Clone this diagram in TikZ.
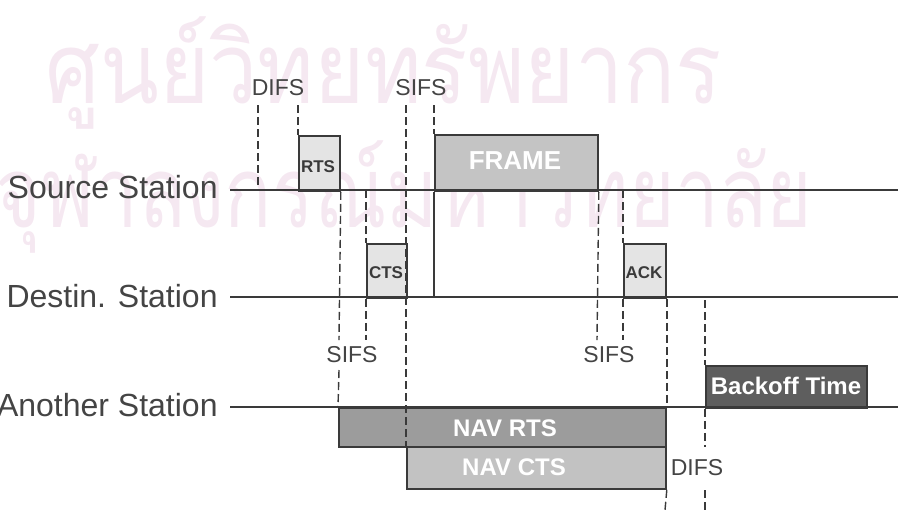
\documentclass[tikz,border=0pt]{standalone}
\usepackage{fontspec}
\setmainfont{Liberation Sans}
\newfontfamily\thaifont[Script=Thai]{Loma}
\usetikzlibrary{positioning}

\definecolor{linegray}{HTML}{3A3A3A}
\definecolor{labelgray}{HTML}{444444}
\definecolor{ctlfill}{HTML}{E4E4E4}
\definecolor{framefill}{HTML}{C4C4C4}
\definecolor{navrtsfill}{HTML}{9C9C9C}
\definecolor{navctsfill}{HTML}{C2C2C2}
\definecolor{backofffill}{HTML}{5E5E5E}
\definecolor{wmpink}{HTML}{F5E8F1}

\begin{document}
\begin{tikzpicture}[
    x=0.5pt, y=-0.5pt,
    station/.style={font=\fontsize{16}{19}\selectfont, text=labelgray, anchor=east, inner sep=0pt},
    ifs/.style={font=\fontsize{11.5}{14}\selectfont, text=labelgray, inner sep=0pt},
    slot/.style={rectangle, draw=linegray, line width=0.9pt, fill=#1, anchor=north west, inner sep=0pt},
    slotlabel/.style={font=\fontsize{8.5}{10}\selectfont\bfseries, text=linegray, inner sep=0pt},
    navlabel/.style={font=\fontsize{12}{14}\selectfont\bfseries, text=white, inner sep=0pt},
    wire/.style={line width=0.9pt, draw=linegray},
    timemark/.style={line width=0.7pt, draw=linegray, dash pattern=on 4pt off 2pt},
    wmark/.style={font=\thaifont\fontsize{49.5}{55}\selectfont, text=wmpink, anchor=base west, inner sep=0pt},
]
\useasboundingbox (0,0) rectangle (898,510);

% Watermark
\node[wmark] (wm1) at (45,103) {\scalebox{0.87}[1]{ศูนย์วิทยทรัพยากร}};
\node[wmark] (wm2) at (-5,227) {\scalebox{0.79}[1]{จุฬาลงกรณ์มหาวิทยาลัย}};

% Station labels
\node[station] (src) at (218,187) {Source Station};
\node[station] (dst) at (218,296) {Destin. Station};
\node[station] (oth) at (218,405) {Another Station};

% Frames on the air
\node[slot=ctlfill, minimum width=20.5pt, minimum height=27.5pt] (rts) at (298,135) {};
\node[slot=ctlfill, minimum width=20pt, minimum height=27pt] (cts) at (366,243) {};
\node[slot=ctlfill, minimum width=21pt, minimum height=27pt] (ack) at (623,243) {};
\node[slot=framefill, minimum width=81.5pt, minimum height=28pt] (frame) at (434,134) {};
\node[slot=navrtsfill, minimum width=163.5pt, minimum height=19.5pt] (navrts) at (338,407) {};
\node[slot=navctsfill, minimum width=129.5pt, minimum height=21pt] (navcts) at (406,446) {};
\node[slot=backofffill, minimum width=80.5pt, minimum height=21pt] (backoff) at (705,365) {};

\node[slotlabel] (rtstext) at (318,167) {RTS};
\node[slotlabel] (ctstext) at (386,273) {CTS};
\node[slotlabel] (acktext) at (644,273) {ACK};
\node[navlabel, font=\fontsize{13}{15}\selectfont\bfseries] (frametext) at (515,161) {FRAME};
\node[navlabel] (navrtstext) at (505,428) {NAV RTS};
\node[navlabel] (navctstext) at (514,467) {NAV CTS};
\node[navlabel] (backofftext) at (786,386) {Backoff Time};

% Interframe spaces
\node[ifs] (difs1) at (278,88) {DIFS};
\node[ifs] (sifs1) at (421,88) {SIFS};
\node[ifs] (sifs2) at (352,355) {SIFS};
\node[ifs] (sifs3) at (609,355) {SIFS};
\node[ifs] (difs2) at (697,468) {DIFS};

% Station time lines
\coordinate (srcL) at (230,190);  \coordinate (srcR) at (898,190);
\coordinate (dstL) at (230,297);  \coordinate (dstR) at (898,297);
\coordinate (othL) at (230,407);  \coordinate (othR) at (898,407);
\draw[wire] (srcL) -- (srcR);
\draw[wire] (dstL) -- (dstR);
\draw[wire] (othL) -- (othR);

% Time marks
\draw[timemark] (258,105) -- (258,190);
\draw[timemark] (298,105) -- (rts.north west);
\draw[timemark] (rts.south east) -- (339,340);
\draw[timemark] (339,370) -- (navrts.north west);
\draw[timemark] (366,190) -- (cts.north west);
\draw[timemark] (cts.south west) -- (366,340);
\draw[timemark] (406,105) -- (navcts.north west);
\draw[timemark] (434,105) -- (frame.north west);
\draw[wire, line width=0.7pt] (frame.south west) -- (434,297);
\draw[timemark] (frame.south east) -- (597,340);
\draw[timemark] (623,190) -- (ack.north west);
\draw[timemark] (ack.south west) -- (623,340);
\draw[timemark] (ack.south east) -- (navrts.north east);
\draw[timemark] (navcts.south east) -- (665,510);
\draw[timemark] (705,300) -- (backoff.north west);
\draw[timemark] (backoff.south west) -- (705,447);
\draw[timemark] (705,490) -- (705,510);

\end{tikzpicture}
\end{document}
